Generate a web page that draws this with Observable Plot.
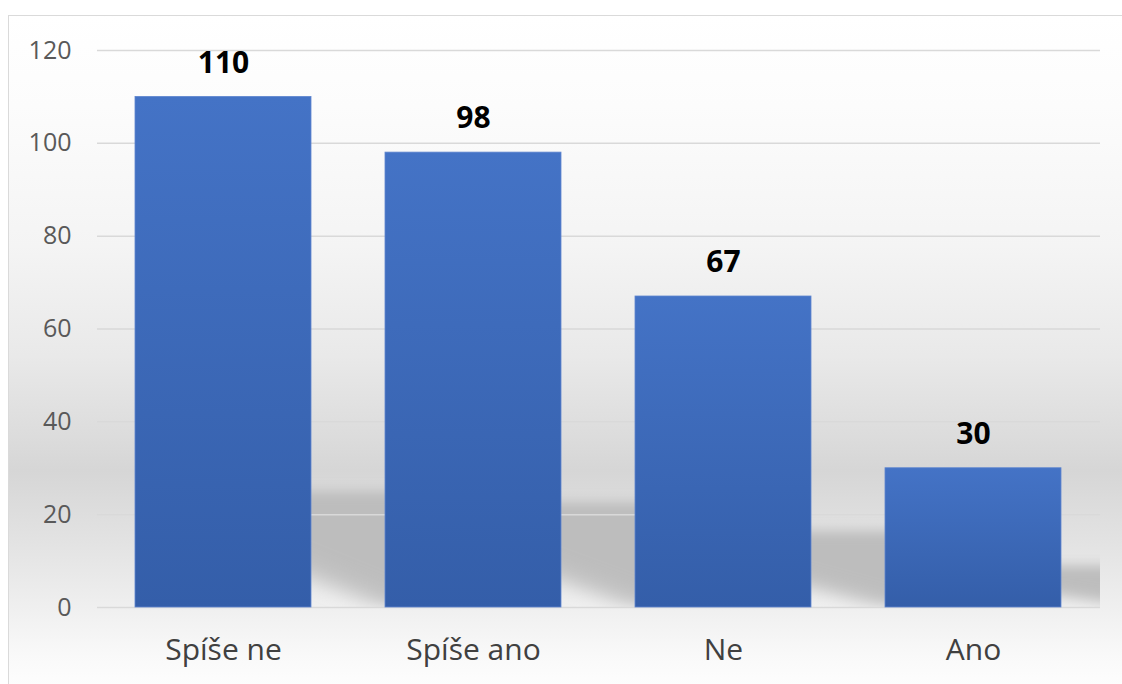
<!DOCTYPE html>
<html>
<head>
<meta charset="utf-8">
<script src="https://cdn.jsdelivr.net/npm/d3@7"></script>
<script src="https://cdn.jsdelivr.net/npm/@observablehq/plot@0.6"></script>
<style>
  html, body { margin: 0; padding: 0; width: 1122px; height: 684px; overflow: hidden; background: #fff; }
  #frame {
    position: absolute; left: 8px; top: 15px; width: 1200px; height: 800px;
    border: 1px solid #dadada;
    background: linear-gradient(to bottom,
      #ffffff 0px, #fcfcfc 90px, #f4f4f4 230px, #e9e9e9 340px,
      #dcdcdc 420px, #d6d6d6 455px, #dedede 500px, #e9e9e9 560px,
      #f3f3f3 610px, #f9f9f9 640px, #fdfdfd 669px);
  }
  #chart { position: absolute; left: 0; top: 0; }
</style>
</head>
<body>
<div id="frame"></div>
<div id="chart"></div>
<script>
const categories = ["Spíše ne", "Spíše ano", "Ne", "Ano"];
const values = [110, 98, 67, 30];
const yTicks = [0, 20, 40, 60, 80, 100, 120];

const data = categories.map((c, i) => ({cat: c, value: values[i]}));
const font = "'Open Sans', 'Noto Sans', sans-serif";

const chart = Plot.plot({
  width: 1122,
  height: 684,
  marginLeft: 97,
  marginRight: 22,
  marginTop: 50,
  marginBottom: 77,
  style: {background: "transparent", fontFamily: font, overflow: "visible"},
  x: {domain: categories, paddingInner: 0.295, paddingOuter: 0.1475, label: null},
  y: {domain: [0, 120], label: null},
  marks: [
    Plot.barY(data, {
      x: "cat", y1: 0, y2: d => 3 + 0.2 * d.value, dx: 90,
      fill: "url(#shadowGrad)", clip: true
    }),
    Plot.gridY(yTicks, {stroke: "#d9d9d9", strokeOpacity: 1, strokeWidth: 1.5}),
    Plot.barY(data, {x: "cat", y: "value", fill: "url(#barGrad)", stroke: "#5f86cf", strokeWidth: 0.8}),
    Plot.text(data, {
      x: "cat", y: "value", text: d => String(d.value), dy: -34,
      fontSize: 30, fontWeight: "bold", fill: "#000"
    }),
    Plot.axisY(yTicks, {
      tickSize: 0, tickPadding: 26, fontSize: 25, fill: "#595959", label: null
    }),
    Plot.axisX({
      tickSize: 0, tickPadding: 31, fontSize: 30, fill: "#404040", label: null
    })
  ]
});

document.getElementById("chart").appendChild(chart);

const svg = d3.select(chart);
const defs = svg.insert("defs", ":first-child");
const bg = defs.append("linearGradient").attr("id", "barGrad")
  .attr("x1", 0).attr("y1", 0).attr("x2", 0).attr("y2", 1);
bg.append("stop").attr("offset", 0).attr("stop-color", "#4473c6");
bg.append("stop").attr("offset", 1).attr("stop-color", "#345ea9");

const sg = defs.append("linearGradient").attr("id", "shadowGrad")
  .attr("x1", 0.62).attr("y1", 0.93).attr("x2", 0.78).attr("y2", 0.67);
sg.append("stop").attr("offset", 0).attr("stop-color", "#bdbdbd").attr("stop-opacity", 0);
sg.append("stop").attr("offset", 0.55).attr("stop-color", "#bdbdbd").attr("stop-opacity", 0.85);
sg.append("stop").attr("offset", 1).attr("stop-color", "#bdbdbd").attr("stop-opacity", 1);

const f = defs.append("filter").attr("id", "shadowBlur")
  .attr("x", "-20%").attr("y", "-30%").attr("width", "140%").attr("height", "160%");
f.append("feGaussianBlur").attr("stdDeviation", 6);

// blur the shadow bars (the group whose fill is the shadow gradient)
svg.selectAll("[fill='url(#shadowGrad)']").each(function() {
  const el = this;
  if (el.tagName.toLowerCase() === "g") {
    d3.select(el).selectAll("rect").attr("filter", "url(#shadowBlur)");
  } else {
    d3.select(el).attr("filter", "url(#shadowBlur)");
  }
});
</script>
</body>
</html>
